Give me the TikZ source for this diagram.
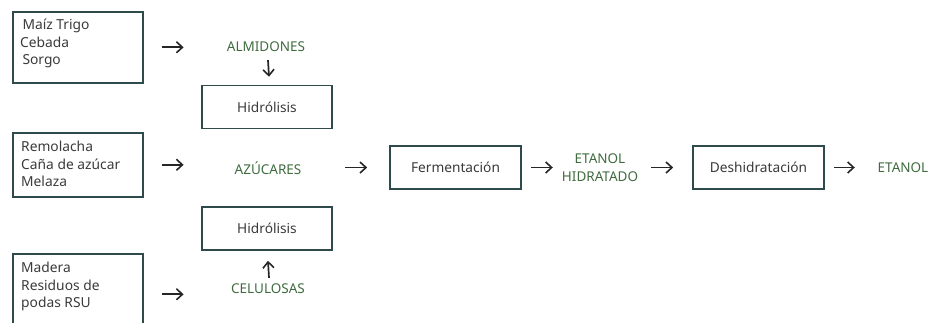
\documentclass[tikz,border=0pt]{standalone}
\usepackage{fontspec}
\setmainfont{Noto Sans}
\usetikzlibrary{arrows.meta}
\definecolor{boxc}{HTML}{2E4A4A}
\definecolor{txt}{HTML}{3A3A3A}
\definecolor{grn}{HTML}{3F6B3F}
\tikzset{
  bx/.style={draw=boxc, line width=1.6pt, minimum width=130pt, inner sep=0pt},
  src/.style={bx, minimum height=#1, anchor=north west},
  srctext/.style={anchor=north west, align=left, text=txt, font=\fontsize{13.8}{17.5}\selectfont, inner sep=0pt},
  proc/.style={bx, minimum height=43pt, text=txt, font=\fontsize{13.7}{15}\selectfont},
  lbl/.style={text=grn, font=\fontsize{13.5}{18}\selectfont, align=center, inner sep=0pt},
  arr/.style={-{Straight Barb[length=6pt,width=11pt,line width=1.6pt]}, line width=1.7pt, draw=black!85}
}
\begin{document}
\begin{tikzpicture}[x=1pt,y=-1pt]
\useasboundingbox (0,0) rectangle (937,322);
\clip (0,0) rectangle (937,322);
% source boxes
\node[src=71pt] (b1) at (12,11) {};
\node[srctext] (t1) at (20,19) {\,Maíz Trigo\\Cebada\\\,Sorgo};
\node[src=64pt] (b2) at (12,132) {};
\node[srctext] (t2) at (21,141) {Remolacha\\Caña de azúcar\\Melaza};
\node[src=80pt] (b3) at (12,253) {};
\node[srctext] (t3) at (21,262) {Madera\\Residuos de\\podas RSU};
% labels
\node[lbl] (alm) at (266,47) {ALMIDONES};
\node[lbl] (azu) at (268,168) {AZÚCARES};
\node[lbl] (cel) at (268,289) {CELULOSAS};
\node[lbl] (eth) at (600,168) {ETANOL\\HIDRATADO};
\node[lbl] (eta) at (903,168) {ETANOL};
% process boxes
\node[proc] (h1) at (267,107) {Hidrólisis};
\node[proc] (h2) at (267,228.5) {Hidrólisis};
\node[proc, minimum width=131pt] (fer) at (455.5,167.5) {Fermentación};
\node[proc, minimum width=131pt] (des) at (758.5,167.5) {Deshidratación};
% connectors
\draw[arr] ([xshift=18pt]b1.east) -- ([xshift=40pt]b1.east);
\draw[arr] ([xshift=18pt]b2.east) -- ([xshift=40pt]b2.east);
\draw[arr] ([xshift=18pt,yshift=-0.5pt]b3.east) -- ([xshift=40pt,yshift=-0.5pt]b3.east);
\draw[arr] ([xshift=2pt,yshift=-8pt]alm.south) -- ([xshift=2pt,yshift=8pt]h1.north);
\draw[arr] ([xshift=1pt,yshift=6pt]cel.north) -- ([xshift=1pt,yshift=-10pt]h2.south);
\draw[arr] ([xshift=-44pt]fer.west) -- ([xshift=-22pt]fer.west);
\draw[arr] ([xshift=9pt]fer.east) -- ([xshift=31pt]fer.east);
\draw[arr] ([xshift=-41pt]des.west) -- ([xshift=-19pt]des.west);
\draw[arr] ([xshift=9pt]des.east) -- ([xshift=30pt]des.east);
\end{tikzpicture}
\end{document}
